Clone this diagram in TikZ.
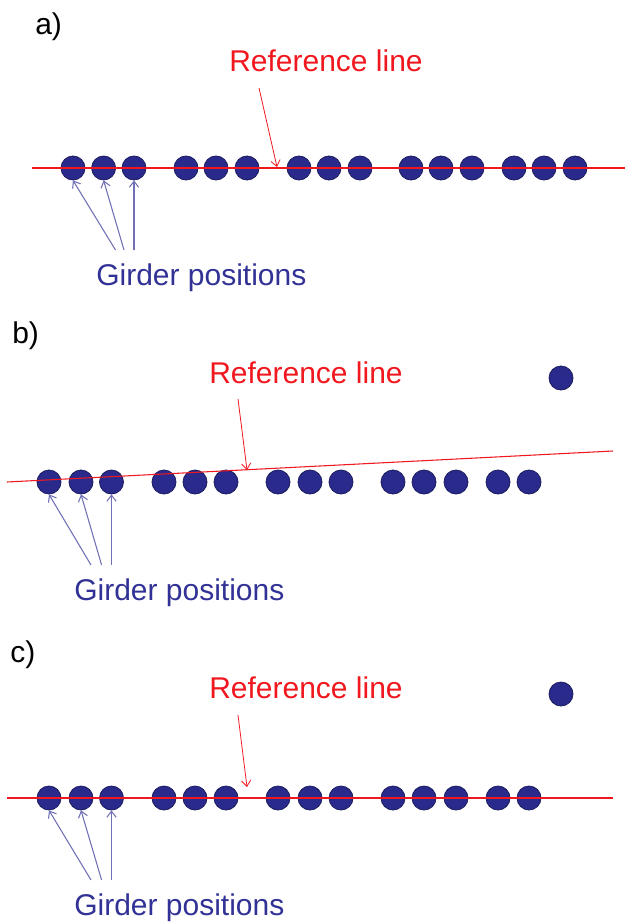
\documentclass[tikz,border=0pt]{standalone}
\usepackage{fontspec}
\setmainfont{Liberation Sans}
\usetikzlibrary{arrows.meta}
\definecolor{girdblue}{RGB}{42,42,140}
\definecolor{girdedge}{RGB}{28,28,95}
\definecolor{textblue}{RGB}{50,50,150}
\definecolor{arrowblue}{RGB}{112,112,182}
\definecolor{refred}{RGB}{240,24,30}
\tikzset{
  girder/.style={circle,fill=girdblue,draw=girdedge,line width=0.6pt,minimum size=18pt,inner sep=0pt},
  refline/.style={draw=refred,line width=0.8pt},
  txt/.style={anchor=base west,inner sep=0pt,font=\fontsize{22.5}{27}\selectfont},
  panellabel/.style={txt,text=black},
  reflabel/.style={txt,text=refred},
  girdlabel/.style={txt,text=textblue},
  redpointer/.style={draw=refred,line width=0.6pt,-{Straight Barb[length=4.5pt,width=7pt]}},
  bluepointer/.style={draw=arrowblue,line width=0.8pt,-{Straight Barb[length=4.5pt,width=7pt]}}
}
\begin{document}
\begin{tikzpicture}[x=0.75pt,y=-0.75pt]
\useasboundingbox (0,0) rectangle (625,924);

%%%%% a) %%%%%
\node[panellabel] (lab-a) at (35,35) {a)};
\foreach \x [count=\i] in {73,103.6,134,186,216,247,299,329,360,411,441,472,514,544,575}
  \node[girder] (ga-\i) at (\x,168) {};
\coordinate (la-w) at (32,168);
\coordinate (la-e) at (625,168);
\draw[refline] (la-w) -- (la-e);
\node[reflabel] (ref-a) at (229,71) {Reference line};
\coordinate (ra-start) at (259,88);
\coordinate (ra-tip) at (277,167);
\draw[redpointer] (ra-start) -- (ra-tip);
\node[girdlabel] (gl-a) at (96,285) {Girder positions};
\foreach \i/\s in {1/115.5,2/124,3/134}{
  \coordinate (ba-\i) at (\s,250);
  \draw[bluepointer] (ba-\i) -- (ga-\i.south);
}

%%%%% b) %%%%%
\node[panellabel] (lab-b) at (12,343) {b)};
\foreach \x [count=\i] in {49,81,111.5,164,195,226,278,310,341,393,424,456,498,529}
  \node[girder] (gb-\i) at (\x,482) {};
\node[girder] (gb-15) at (561,378) {};
\coordinate (lb-w) at (7,482);
\coordinate (lb-e) at (613,451);
\draw[refline] (lb-w) -- (lb-e);
\node[reflabel] (ref-b) at (209,383) {Reference line};
\coordinate (rb-start) at (238,399);
\coordinate (rb-tip) at (247,470);
\draw[redpointer] (rb-start) -- (rb-tip);
\node[girdlabel] (gl-b) at (74,600) {Girder positions};
\foreach \i/\s in {1/91,2/101.6,3/111.5}{
  \coordinate (bb-\i) at (\s,565);
  \draw[bluepointer] (bb-\i) -- (gb-\i.south);
}

%%%%% c) %%%%%
\node[panellabel] (lab-c) at (10,662) {c)};
\foreach \x [count=\i] in {49,81,111.5,164,195,226,278,310,341,393,424,456,498,529}
  \node[girder] (gc-\i) at (\x,798) {};
\node[girder] (gc-15) at (561,694) {};
\coordinate (lc-w) at (7,798);
\coordinate (lc-e) at (613,798);
\draw[refline] (lc-w) -- (lc-e);
\node[reflabel] (ref-c) at (209,698) {Reference line};
\coordinate (rc-start) at (238,715);
\coordinate (rc-tip) at (247,787);
\draw[redpointer] (rc-start) -- (rc-tip);
\node[girdlabel] (gl-c) at (74,915) {Girder positions};
\foreach \i/\s in {1/91,2/101.6,3/111.5}{
  \coordinate (bc-\i) at (\s,880);
  \draw[bluepointer] (bc-\i) -- (gc-\i.south);
}
\end{tikzpicture}
\end{document}
